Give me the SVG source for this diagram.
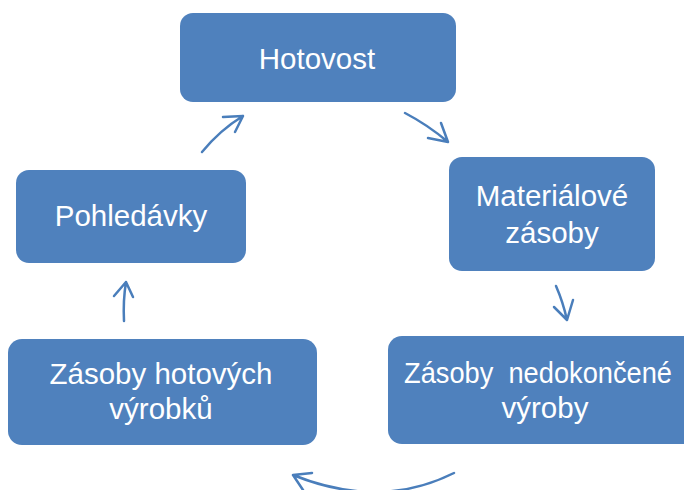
<svg xmlns="http://www.w3.org/2000/svg" width="684" height="490" viewBox="0 0 684 490">
<style>
.box{fill:#4F81BD;}
.t{font-family:"Liberation Sans",Arial,sans-serif;font-size:29.5px;fill:#fff;text-anchor:middle;}
.c{fill:none;stroke:#4A7EBB;stroke-width:2.5;stroke-linecap:round;stroke-linejoin:round;}
</style>
<rect width="684" height="490" fill="#fff"/>
<g id="hotovost"><rect class="box" x="180" y="13" width="276" height="89" rx="13"/><text class="t" x="317" y="69">Hotovost</text></g>
<g id="materialove"><rect class="box" x="449" y="157" width="206" height="114" rx="13"/><text class="t" x="552" y="206">Materiálové</text><text class="t" x="552" y="243">zásoby</text></g>
<g id="nedokoncene"><rect class="box" x="388" y="336" width="316" height="108" rx="14"/><text class="t" x="538" y="383" textLength="268" lengthAdjust="spacingAndGlyphs" xml:space="preserve">Zásoby  nedokončené</text><text class="t" x="545" y="418">výroby</text></g>
<g id="hotovych"><rect class="box" x="8" y="339" width="309" height="106" rx="14"/><text class="t" x="161" y="384">Zásoby hotových</text><text class="t" x="161" y="419">výrobků</text></g>
<g id="pohledavky"><rect class="box" x="16" y="170" width="230" height="93" rx="13"/><text class="t" x="131" y="226">Pohledávky</text></g>
<g id="connectors">
<path class="c" d="M202 152 Q220 130 243 116 M223 117 L243 116 L235 132"/>
<path class="c" d="M405 113 Q428 125 448 142 M441 123 L448 142 L428 138"/>
<path class="c" d="M556 286 Q563 302 567 320 M573 300 L567 320 L554 307"/>
<path class="c" d="M454 473 Q380 510 293 475 M312 473 L293 475 L303 490"/>
<path class="c" d="M124 321 Q123 300 126 282 M114 296 L126 282 L133 297"/>
</g>
</svg>
